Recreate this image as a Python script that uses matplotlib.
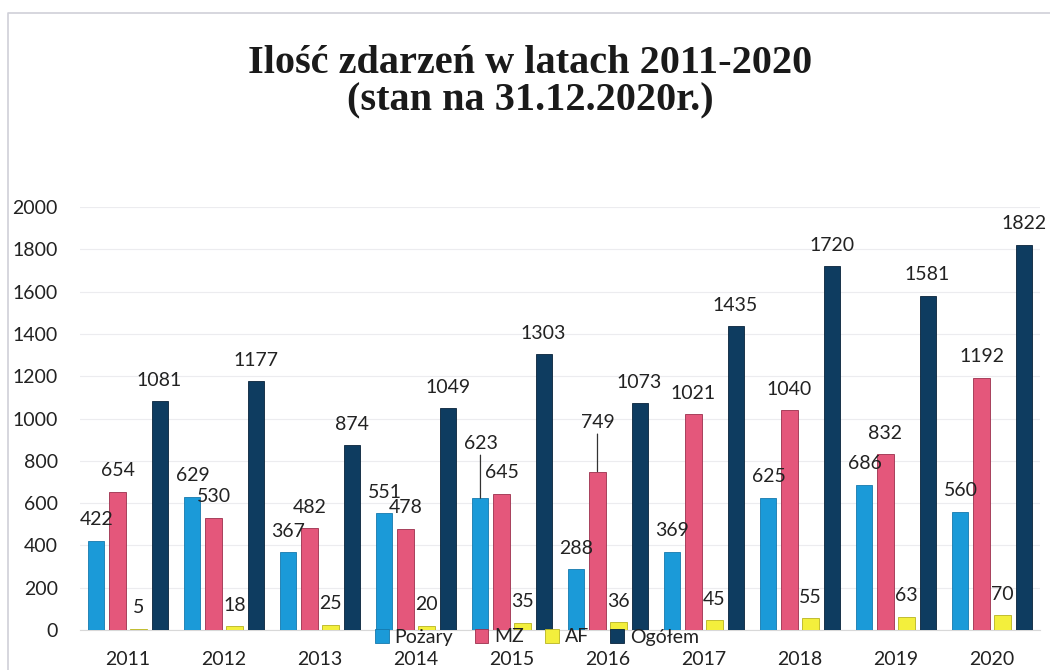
import numpy as np
import matplotlib.pyplot as plt
from matplotlib.lines import Line2D

# dane
years = ['2011', '2012', '2013', '2014', '2015', '2016', '2017', '2018', '2019', '2020']
pozary = [422, 629, 367, 551, 623, 288, 369, 625, 686, 560]
mz = [654, 530, 482, 478, 645, 749, 1021, 1040, 832, 1192]
af = [5, 18, 25, 20, 35, 36, 45, 55, 63, 70]
ogolem = [1081, 1177, 874, 1049, 1303, 1073, 1435, 1720, 1581, 1822]

series = [('Pożary', pozary, '#1b9ad8', '#1579ad'),
          ('MZ', mz, '#e4577b', '#9c2f4c'),
          ('AF', af, '#f3ef3c', '#b8b420'),
          ('Ogółem', ogolem, '#0e3c60', '#08233a')]

# etykiety przesunięte ręcznie (z linią odniesienia)
moved = {('Pożary', 4): 33, ('MZ', 5): 29}

sans = ['Lato', 'DejaVu Sans']
fig = plt.figure(figsize=(10.5, 6.7), dpi=100)
ax = fig.add_axes([80 / 1050, 1 - 630 / 670, 960 / 1050, 423 / 670])

x = np.arange(len(years))
width = 0.167
step = 0.219

for k, (name, vals, col, edge) in enumerate(series):
    pos = x + (k - 1.5) * step
    ax.bar(pos, vals, width, color=col, edgecolor=edge, linewidth=0.6,
           label=name, zorder=3)
    for i, (p, v) in enumerate(zip(pos, vals)):
        off = moved.get((name, i))
        if off is None:
            ax.annotate(str(v), (p, v), xytext=(0, 9), textcoords='offset points',
                        ha='center', va='bottom', fontsize=14, family=sans,
                        color='#222222', zorder=4)
        else:
            ax.annotate(str(v), (p, v), xytext=(0, off), textcoords='offset points',
                        ha='center', va='bottom', fontsize=14, family=sans,
                        color='#222222', zorder=4,
                        arrowprops=dict(arrowstyle='-', color='#333333', lw=0.9,
                                        shrinkA=0, shrinkB=0))

ax.set_xlim(-0.5, 9.5)
ax.set_ylim(0, 2000)
ax.set_yticks(range(0, 2001, 200))
ax.set_xticks(x)
ax.set_xticklabels(years)
ax.tick_params(axis='y', length=0, pad=16, labelsize=14, labelcolor='#222222')
ax.tick_params(axis='x', length=0, pad=15, labelsize=14, labelcolor='#222222')
for lab in ax.get_xticklabels() + ax.get_yticklabels():
    lab.set_family(sans)

ax.grid(axis='y', color='#ececef', linewidth=0.8, zorder=0)
for s in ['top', 'right', 'left']:
    ax.spines[s].set_visible(False)
ax.spines['bottom'].set_color('#d8d8d8')

leg = fig.legend(loc='center', bbox_to_anchor=(537 / 1050, 1 - 637 / 670), ncol=4,
                 frameon=False, prop={'family': sans, 'size': 14},
                 handlelength=0.7, handleheight=0.7, handletextpad=0.3,
                 columnspacing=1.1, borderpad=0)
for t in leg.get_texts():
    t.set_color('#222222')

fig.text(530 / 1050, 1 - 82 / 670, 'Ilość zdarzeń w latach 2011-2020\n(stan na 31.12.2020r.)',
         ha='center', va='center', fontsize=29, fontweight='bold',
         family='Liberation Serif', linespacing=1.0, color='#1a1a1a')

# ramka skanu
fig.add_artist(Line2D([8 / 1050, 8 / 1050, 1], [0, 1 - 13 / 670, 1 - 13 / 670],
                      transform=fig.transFigure, color='#cfd0d8', lw=1.2))

fig.savefig('out.png', dpi=100)
